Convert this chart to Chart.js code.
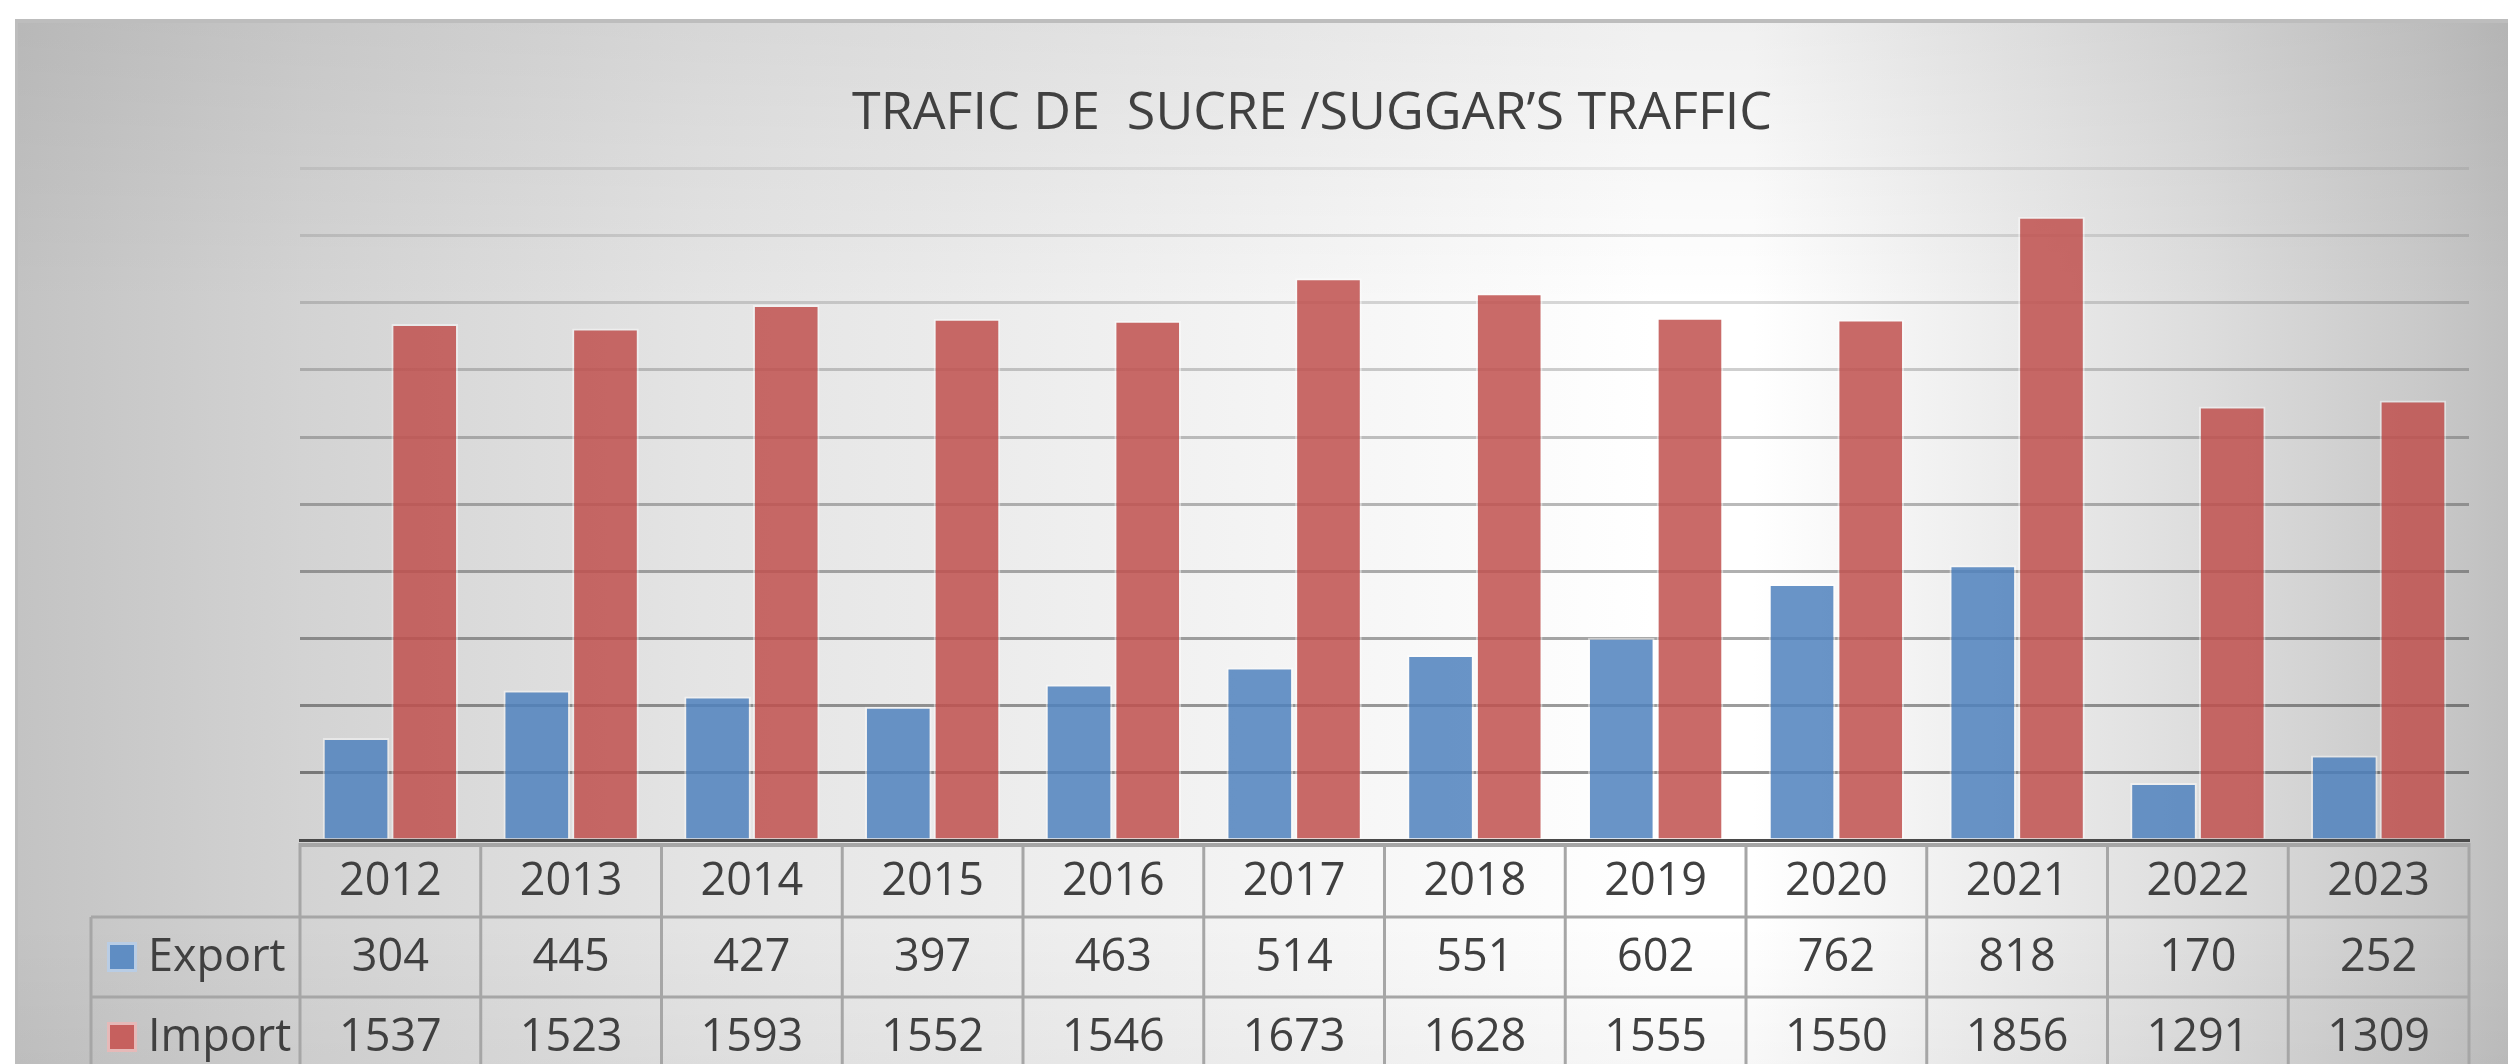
<!DOCTYPE html>
<html>
<head>
<meta charset="utf-8">
<script src="https://cdn.jsdelivr.net/npm/chart.js@4.4.1/dist/chart.umd.min.js"></script>
<style>
    body { margin: 0; background: #ffffff; overflow: hidden; }
    .frame {
        position: absolute; left: 15px; top: 19px; right: 0; bottom: 0;
        border-left: 3px solid #bdbdbd; border-top: 4px solid #bdbdbd;
        background:
            linear-gradient(to bottom, rgba(0,0,0,0.06) 0px, rgba(0,0,0,0) 280px, rgba(0,0,0,0) 900px, rgba(0,0,0,0.03) 1045px),
            linear-gradient(to right, #c3c3c3 0px, #d3d3d3 285px, #e4e4e4 685px, #f2f2f2 1185px, #ffffff 1635px, #ffffff 1735px, #f0f0f0 1935px, #dddddd 2185px, #c9c9c9 2405px, #bfbfbf 2493px);
    }
    #chart { position: absolute; left: 0; top: 0; }
</style>
</head>
<body>
<div class="frame"></div>
<canvas id="chart" width="2508" height="1064"></canvas>
<script>
const years = ['2012', '2013', '2014', '2015', '2016', '2017', '2018', '2019', '2020', '2021', '2022', '2023'];
const exportValues = [304, 445, 427, 397, 463, 514, 551, 602, 762, 818, 170, 252];
const importValues = [1537, 1523, 1593, 1552, 1546, 1673, 1628, 1555, 1550, 1856, 1291, 1309];
const seriesNames = ['Export', 'Import'];
const yMax = 2000;
const yStep = 200;

const blue = 'rgba(79, 129, 189, 0.85)';
const red = 'rgba(192, 80, 77, 0.85)';
const textColor = '#404040';
const font = "'Open Sans', 'Noto Sans', sans-serif";

// table under the plot: years row comes from the x axis, values + legend drawn here
const dataTable = {
    id: 'dataTable',
    afterDraw(chart) {
        const ctx = chart.ctx;
        const x = chart.scales.x;
        const bottom = chart.chartArea.bottom;
        const step = (x.right - x.left) / years.length;
        const legendLeft = x.left - 209;
        const rowTop = bottom + 77;
        const rowH = 80;
        const rows = [exportValues, importValues];
        const colors = [blue, red];
        const swatchBorders = ['#b9cde5', '#e6b9b8'];

        ctx.save();
        ctx.strokeStyle = '#a6a6a6';

        // top border of the table, right under the axis
        ctx.lineWidth = 4;
        ctx.beginPath();
        ctx.moveTo(x.left, bottom + 5);
        ctx.lineTo(x.right, bottom + 5);
        ctx.stroke();

        ctx.lineWidth = 3;
        ctx.beginPath();
        for (let i = 0; i <= years.length; i++) {
            const px = x.left + i * step;
            ctx.moveTo(px, bottom + 3);
            ctx.lineTo(px, chart.height);
        }
        ctx.moveTo(legendLeft, rowTop);
        ctx.lineTo(legendLeft, chart.height);
        ctx.moveTo(legendLeft, rowTop);
        ctx.lineTo(x.right, rowTop);
        ctx.moveTo(legendLeft, rowTop + rowH);
        ctx.lineTo(x.right, rowTop + rowH);
        ctx.stroke();

        ctx.font = '45px ' + font;
        ctx.fillStyle = textColor;
        ctx.textBaseline = 'middle';

        rows.forEach((values, r) => {
            const cy = rowTop + rowH * r + rowH / 2 + 1;
            // legend key
            ctx.fillStyle = swatchBorders[r];
            ctx.fillRect(legendLeft + 16, cy - 16, 30, 30);
            ctx.fillStyle = colors[r];
            ctx.fillRect(legendLeft + 19, cy - 13, 24, 24);
            ctx.fillStyle = textColor;
            ctx.textAlign = 'left';
            ctx.fillText(seriesNames[r], legendLeft + 57, cy);

            ctx.textAlign = 'center';
            values.forEach((v, i) => {
                ctx.fillText(String(v), x.getPixelForValue(i), cy);
            });
        });
        ctx.restore();
    }
};

new Chart(document.getElementById('chart'), {
    type: 'bar',
    data: {
        labels: years,
        datasets: [
            {
                label: seriesNames[0],
                data: exportValues,
                backgroundColor: blue,
                borderColor: 'rgba(255, 255, 255, 0.45)',
                borderWidth: 2,
                categoryPercentage: 0.76,
                barPercentage: 0.97,
            },
            {
                label: seriesNames[1],
                data: importValues,
                backgroundColor: red,
                borderColor: 'rgba(255, 255, 255, 0.45)',
                borderWidth: 2,
                categoryPercentage: 0.76,
                barPercentage: 0.97,
            },
        ],
    },
    options: {
        responsive: false,
        animation: false,
        devicePixelRatio: 1,
        layout: { padding: { left: 155, right: 39, top: 0, bottom: 0 } },
        plugins: {
            legend: { display: false },
            tooltip: { enabled: false },
            title: {
                display: true,
                text: 'TRAFIC DE  SUCRE /SUGGAR\u2019S TRAFFIC',
                color: textColor,
                font: { family: font, size: 52, weight: 'normal' },
                padding: { top: 83, bottom: 23 },
            },
        },
        scales: {
            x: {
                grid: { display: false, drawTicks: false },
                border: { display: true, color: '#4a4a4a', width: 3 },
                ticks: {
                    color: textColor,
                    font: { family: font, size: 45 },
                    padding: 15,
                    maxRotation: 0,
                },
                afterFit(scale) { scale.height = 224; },
            },
            y: {
                min: 0,
                max: yMax,
                ticks: { display: false, stepSize: yStep },
                border: { display: false },
                grid: {
                    drawTicks: false,
                    lineWidth: 3,
                    color(c) {
                        const a = 0.07 + (yMax - c.tick.value) / (yMax - yStep) * 0.36;
                        return 'rgba(0, 0, 0, ' + a.toFixed(3) + ')';
                    },
                },
                afterFit(scale) { scale.width = 145; },
            },
        },
    },
    plugins: [dataTable],
});
</script>
</body>
</html>
